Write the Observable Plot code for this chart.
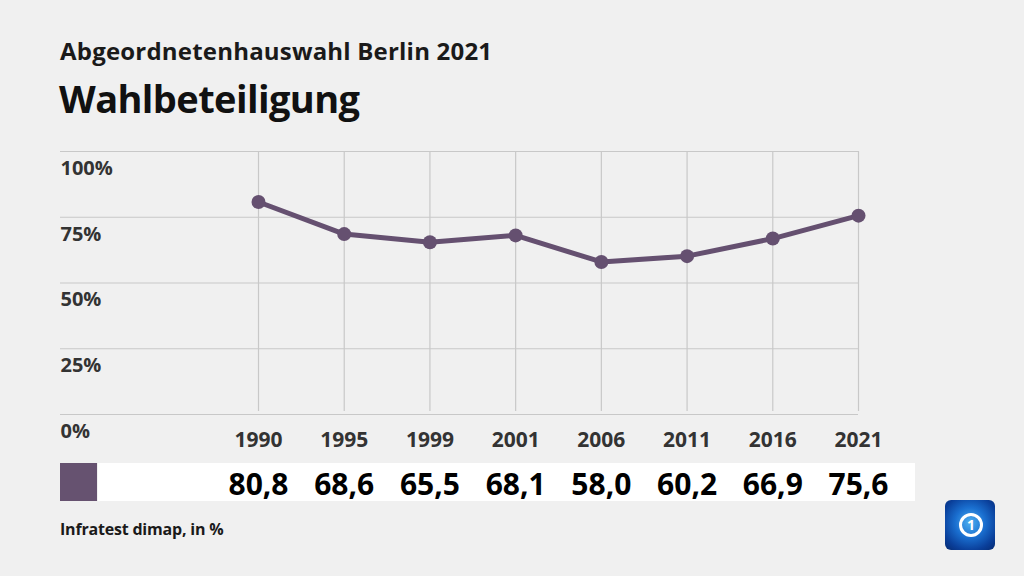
<!DOCTYPE html>
<html>
<head>
<meta charset="utf-8">
<script src="https://cdn.jsdelivr.net/npm/d3@7"></script>
<script src="https://cdn.jsdelivr.net/npm/@observablehq/plot@0.6"></script>
<style>
  html, body { margin: 0; padding: 0; }
  body { width: 1024px; height: 576px; background: #f0f0f0; position: relative; overflow: hidden; font-family: "Open Sans", "Noto Sans", sans-serif; }
  .t1 { position: absolute; left: 60px; top: 34px; font-size: 24px; font-weight: 700; color: #1a1a1a; letter-spacing: 0.2px; }
  .t2 { position: absolute; left: 59px; top: 72px; font-size: 38px; font-weight: 700; color: #111; letter-spacing: -0.6px; }
  .band { position: absolute; left: 98px; top: 463px; width: 817px; height: 38px; background: #ffffff; }
  .swatch { position: absolute; left: 60px; top: 463px; width: 37px; height: 38px; background: #665270; }
  #chart { position: absolute; left: 0; top: 130px; }
  .foot { position: absolute; left: 60px; top: 518px; font-size: 16px; font-weight: 700; color: #1a1a1a; letter-spacing: -0.2px; }
  .logo { position: absolute; left: 945px; top: 500px; width: 50px; height: 50px; border-radius: 6px;
          background: radial-gradient(circle at 50% 45%, #4fb0f0 0%, #1a6fd0 40%, #0a3f9a 75%, #062a70 100%); }
  .logo .ring { position: absolute; left: 14px; top: 13px; width: 18px; height: 18px; border: 3px solid #fff; border-radius: 50%;
                color: #fff; font: 700 14px/18px "Open Sans", sans-serif; text-align: center; }
</style>
</head>
<body>
<div class="t1">Abgeordnetenhauswahl Berlin 2021</div>
<div class="t2">Wahlbeteiligung</div>
<div class="band"></div>
<div class="swatch"></div>
<div id="chart"></div>
<div class="foot">Infratest dimap, in %</div>
<div class="logo"><div class="ring">1</div></div>
<script>
const years = ["1990", "1995", "1999", "2001", "2006", "2011", "2016", "2021"];
const turnout = [80.8, 68.6, 65.5, 68.1, 58.0, 60.2, 66.9, 75.6];
const yTicks = [0, 25, 50, 75, 100];

const data = years.map((year, i) => ({year, value: turnout[i]}));
const fmt = v => v.toFixed(1).replace(".", ",");
const lineColor = "#655070";

const chart = Plot.plot({
  width: 1024,
  height: 380,
  marginLeft: 60,
  marginRight: 166,
  marginTop: 21,
  marginBottom: 96,
  style: { background: "transparent", fontFamily: "'Open Sans', 'Noto Sans', sans-serif" },
  x: { type: "point", domain: years, range: [258, 858], padding: 0, round: false, axis: null },
  y: { domain: [0, 100], axis: null },
  marks: [
    Plot.ruleY(yTicks, { stroke: "#c8c8c8", strokeWidth: 1.2, strokeOpacity: 1 }),
    Plot.ruleX(years, { y1: 0, y2: 100, stroke: "#c8c8c8", strokeWidth: 1.2, strokeOpacity: 1, insetTop: -3 }),
    Plot.text(yTicks, { y: d => d, text: d => d + "%", frameAnchor: "left", textAnchor: "start", dy: 17, fontSize: 20, fontWeight: 700, fill: "#333" }),
    Plot.line(data, { x: "year", y: "value", stroke: lineColor, strokeWidth: 5, curve: "linear" }),
    Plot.dot(data, { x: "year", y: "value", r: 7, fill: lineColor, stroke: "none" }),
    Plot.text(years, { x: d => d, text: d => d, frameAnchor: "bottom", dy: 32, fontSize: 21, fontWeight: 700, fill: "#333" }),
    Plot.text(data, { x: "year", text: d => fmt(d.value), frameAnchor: "bottom", dy: 80, fontSize: 30, fontWeight: 700, fill: "#000" })
  ]
});
document.getElementById("chart").appendChild(chart);
</script>
</body>
</html>
